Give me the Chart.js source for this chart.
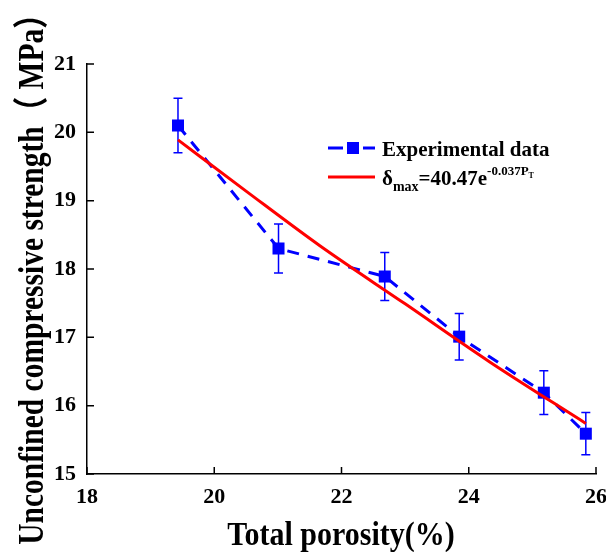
<!DOCTYPE html>
<html lang="en">
<head>
<meta charset="UTF-8">
<title>Total porosity vs strength</title>
<script src="https://cdn.jsdelivr.net/npm/chart.js"></script>
<style>
  html, body { margin: 0; padding: 0; background: #fff; }
</style>
</head>
<body>
<canvas id="myChart" width="606" height="552"></canvas>
<script>
// measured values
const porosity = [19.43, 21.01, 22.68, 23.85, 25.18, 25.84];
const strength = [20.10, 18.30, 17.89, 17.01, 16.19, 15.59];
const errBars = [0.40, 0.36, 0.35, 0.34, 0.32, 0.31];
// fitted curve
const fitX = [19.43, 20.5, 21.66, 23.0, 24.33, 25.84];
const fitY = [19.89, 19.14, 18.34, 17.49, 16.64, 15.74];
const xTicks = [18, 20, 22, 24, 26];
const yTicks = [15, 16, 17, 18, 19, 20, 21];
const xTitle = 'Total porosity(%)';
const yTitle = 'Unconfined compressive strength\uff08 MPa\uff09';

const FONT = "'Liberation Serif', 'Times New Roman', 'Noto Sans CJK SC', serif";
Chart.defaults.color = '#000';
Chart.defaults.font.family = FONT;
Chart.defaults.font.weight = 'bold';

// error bars drawn from the scales
const errorBars = {
    id: 'errorBars',
    beforeDatasetsDraw(chart) {
        const ctx = chart.ctx;
        const xs = chart.scales.x, ys = chart.scales.y;
        ctx.save();
        ctx.strokeStyle = '#0000ff';
        ctx.lineWidth = 1.5;
        porosity.forEach((p, i) => {
            const x = xs.getPixelForValue(p);
            const y1 = ys.getPixelForValue(strength[i] + errBars[i]);
            const y2 = ys.getPixelForValue(strength[i] - errBars[i]);
            ctx.beginPath();
            ctx.moveTo(x, y1); ctx.lineTo(x, y2);
            ctx.moveTo(x - 4.5, y1); ctx.lineTo(x + 4.5, y1);
            ctx.moveTo(x - 4.5, y2); ctx.lineTo(x + 4.5, y2);
            ctx.stroke();
        });
        ctx.restore();
    }
};

// inward tick marks + axis titles (glyphs a bit taller than wide, like the original)
const axisDecor = {
    id: 'axisDecor',
    afterDraw(chart) {
        const ctx = chart.ctx;
        const xs = chart.scales.x, ys = chart.scales.y;
        const a = chart.chartArea;
        ctx.save();
        ctx.strokeStyle = '#000';
        ctx.lineWidth = 1.5;
        ctx.beginPath();
        xTicks.forEach(v => {
            const x = xs.getPixelForValue(v);
            ctx.moveTo(x, a.bottom); ctx.lineTo(x, a.bottom - 7);
        });
        yTicks.forEach(v => {
            const y = ys.getPixelForValue(v);
            ctx.moveTo(a.left, y); ctx.lineTo(a.left + 7, y);
        });
        ctx.stroke();

        ctx.fillStyle = '#000';
        ctx.textAlign = 'center';
        ctx.textBaseline = 'alphabetic';

        ctx.save();
        ctx.font = 'bold 30px ' + FONT;
        ctx.translate(341, 545);
        ctx.scale(1, 1.15);
        ctx.fillText(xTitle, 0, 0);
        ctx.restore();

        ctx.save();
        ctx.font = 'bold 29.5px ' + FONT;
        ctx.translate(43, 272);
        ctx.rotate(-Math.PI / 2);
        ctx.scale(1, 1.2);
        ctx.fillText(yTitle, 0, 0);
        ctx.restore();

        ctx.restore();
    }
};

// legend with the formula (sub/superscripts)
const formulaLegend = {
    id: 'formulaLegend',
    afterDraw(chart) {
        const ctx = chart.ctx;
        ctx.save();
        // row 1
        ctx.strokeStyle = '#0000ff';
        ctx.lineWidth = 3;
        ctx.beginPath();
        ctx.moveTo(328, 148); ctx.lineTo(343, 148);
        ctx.moveTo(363, 148); ctx.lineTo(375, 148);
        ctx.stroke();
        ctx.fillStyle = '#0000ff';
        ctx.fillRect(347, 142, 12, 12);
        ctx.fillStyle = '#000';
        ctx.textBaseline = 'alphabetic';
        ctx.font = 'bold 21px ' + FONT;
        ctx.fillText('Experimental data', 382, 156);
        // row 2
        ctx.strokeStyle = '#ff0000';
        ctx.beginPath();
        ctx.moveTo(328, 177); ctx.lineTo(375, 177);
        ctx.stroke();
        let x = 382;
        ctx.font = 'bold 21px ' + FONT;
        ctx.fillText('\u03b4', x, 185);
        x += ctx.measureText('\u03b4').width;
        ctx.font = 'bold 14px ' + FONT;
        ctx.fillText('max', x, 191);
        x += ctx.measureText('max').width;
        ctx.font = 'bold 21px ' + FONT;
        ctx.fillText('=40.47e', x, 185);
        x += ctx.measureText('=40.47e').width;
        ctx.font = 'bold 13px ' + FONT;
        ctx.fillText('-0.037P', x, 175);
        x += ctx.measureText('-0.037P').width;
        ctx.font = 'bold 8px ' + FONT;
        ctx.fillText('T', x, 178);
        ctx.restore();
    }
};

const ctx = document.getElementById('myChart').getContext('2d');
const myChart = new Chart(ctx, {
    type: 'scatter',
    data: {
        datasets: [{
            label: 'fit',
            data: fitX.map((v, i) => ({ x: v, y: fitY[i] })),
            showLine: true,
            borderColor: '#ff0000',
            borderWidth: 3,
            pointRadius: 0,
            cubicInterpolationMode: 'monotone',
            order: 0
        }, {
            label: 'Experimental data',
            data: porosity.map((v, i) => ({ x: v, y: strength[i] })),
            showLine: true,
            borderColor: '#0000ff',
            borderWidth: 3,
            borderDash: [12, 9],
            backgroundColor: '#0000ff',
            pointStyle: 'rect',
            pointRadius: 8.5,
            pointBorderWidth: 0,
            order: 1
        }]
    },
    options: {
        responsive: false,
        animation: false,
        layout: { autoPadding: false, padding: { top: 64, right: 10, left: 0, bottom: 0 } },
        plugins: { legend: { display: false }, tooltip: { enabled: false } },
        scales: {
            x: {
                type: 'linear',
                min: 18, max: 26,
                afterBuildTicks: s => { s.ticks = xTicks.map(v => ({ value: v })); },
                afterFit: s => { s.height = 78; s.paddingLeft = 0; s.paddingRight = 0; },
                grid: { display: false, drawTicks: false },
                border: { display: true, color: '#000', width: 1.5 },
                ticks: { font: { size: 22, weight: 'bold' }, padding: 10, maxRotation: 0 },
                title: { display: false }
            },
            y: {
                type: 'linear',
                min: 15, max: 21,
                afterBuildTicks: s => { s.ticks = yTicks.map(v => ({ value: v })); },
                afterFit: s => { s.width = 87; s.paddingTop = 0; s.paddingBottom = 0; },
                grid: { display: false, drawTicks: false },
                border: { display: true, color: '#000', width: 1.5 },
                ticks: { font: { size: 22, weight: 'bold' }, padding: 11 },
                title: { display: false }
            }
        }
    },
    plugins: [errorBars, axisDecor, formulaLegend]
});
</script>
</body>
</html>
